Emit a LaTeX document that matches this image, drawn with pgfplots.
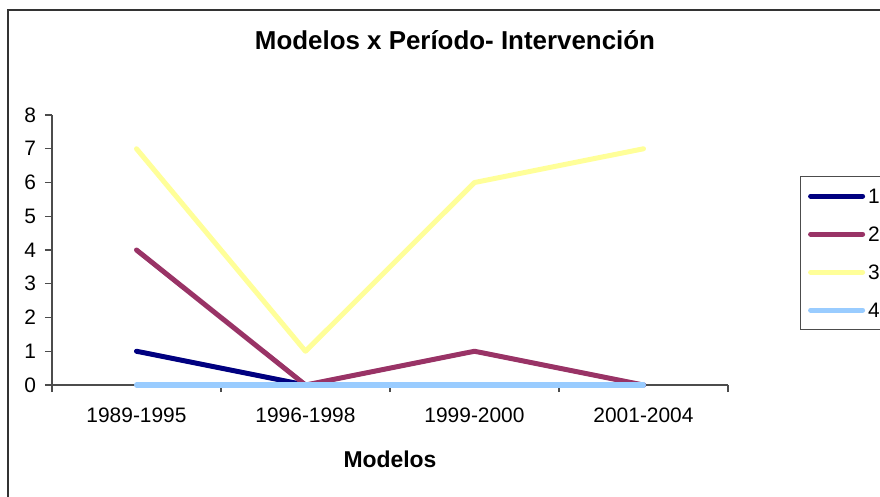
\documentclass[border=0pt]{standalone}
\usepackage{fontspec}
\setmainfont{Liberation Sans}
\usepackage{pgfplots}
\pgfplotsset{compat=1.18}
\definecolor{s1}{HTML}{000080}
\definecolor{s2}{HTML}{993366}
\definecolor{s3}{HTML}{FFFF99}
\definecolor{s4}{HTML}{99CCFF}
\begin{document}
\begin{tikzpicture}
\useasboundingbox (0,0) rectangle (440bp,248.5bp);
\draw[black!80, line width=0.8bp] (4bp,-20bp) rectangle (470bp,243.5bp);
\node[font=\bfseries\fontsize{13}{15}\selectfont, anchor=base] at (227.5bp,223.5bp) {Modelos x Período- Intervención};
\begin{axis}[
  at={(26bp,56bp)}, anchor=south west,
  width=338bp, height=135bp, scale only axis,
  xmin=-0.5, xmax=3.5, ymin=0, ymax=8,
  axis x line=bottom, axis y line=left,
  axis line style={-, black!70, line width=0.6bp},
  xtick={-0.5,0.5,1.5,2.5,3.5}, x tick label as interval,
  xticklabels={1989-1995,1996-1998,1999-2000,2001-2004},
  ytick={0,1,...,8},
  tick align=outside, major tick length=3.5bp,
  tick style={black!70, line width=0.6bp},
  /pgf/number format/assume math mode=true,
  tick label style={font=\fontsize{10.5}{12}\selectfont},
  xticklabel style={yshift=-4.5bp},
  yticklabel style={xshift=-1bp},
  xlabel={Modelos},
  xlabel style={font=\bfseries\fontsize{11.5}{13}\selectfont, at={(axis description cs:0.5,0)}, anchor=base, yshift=-41bp},
  clip=false,
  every axis plot/.append style={line width=2.5bp, line cap=round, line join=round},
  legend image code/.code={\draw[#1, line width=2.5bp, line cap=round] (0bp,0bp) -- (26bp,0bp);},
  legend style={at={(axis description cs:1.1065,0.7741)}, anchor=north west,
    draw=black!70, line width=0.6bp, font=\fontsize{10.5}{12}\selectfont,
    inner xsep=3.75bp, inner ysep=6bp, row sep=11.5bp, column sep=1.5bp,
    nodes={inner sep=0pt, text height=7.5bp, text depth=0bp}},
  legend cell align=left,
]
\addplot[s1] coordinates {(0,1) (1,0) (2,0) (3,0)};
\addplot[s2] coordinates {(0,4) (1,0) (2,1) (3,0)};
\addplot[s3] coordinates {(0,7) (1,1) (2,6) (3,7)};
\addplot[s4] coordinates {(0,0) (1,0) (2,0) (3,0)};
\legend{1,2,3,4}
\end{axis}
\end{tikzpicture}
\end{document}
